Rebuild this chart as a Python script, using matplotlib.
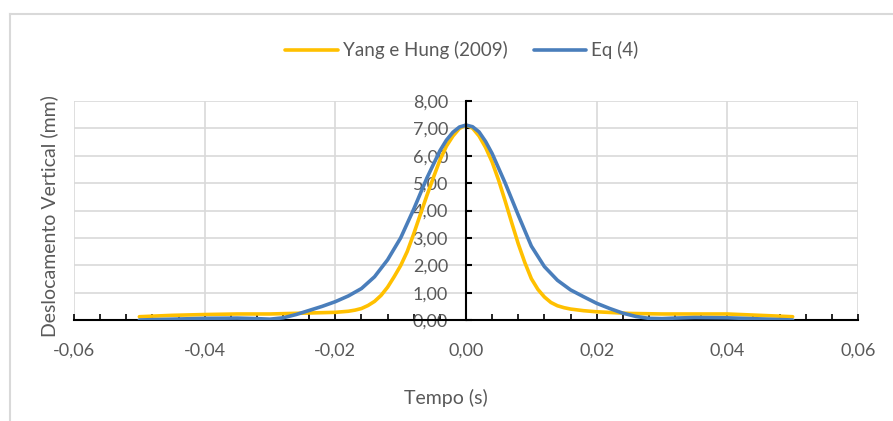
import matplotlib.pyplot as plt
from matplotlib.lines import Line2D
from matplotlib.ticker import MultipleLocator, FuncFormatter

# Yang e Hung (2009)
t_yh = [-0.050, -0.045, -0.040, -0.035, -0.030, -0.025, -0.020, -0.018, -0.017,
        -0.016, -0.015, -0.014, -0.013, -0.012, -0.011, -0.010, -0.009, -0.008,
        -0.007, -0.006, -0.005, -0.004, -0.003, -0.002, -0.001, 0.000, 0.001,
        0.002, 0.003, 0.004, 0.005, 0.006, 0.007, 0.008, 0.009, 0.010, 0.011,
        0.012, 0.013, 0.014, 0.015, 0.016, 0.018, 0.020, 0.025, 0.030, 0.035,
        0.040, 0.045, 0.050]
d_yh = [0.12, 0.17, 0.20, 0.22, 0.22, 0.25, 0.28, 0.32, 0.36,
        0.42, 0.53, 0.68, 0.90, 1.20, 1.58, 1.99, 2.50, 3.15,
        3.85, 4.54, 5.20, 5.84, 6.35, 6.72, 7.00, 7.12, 7.01,
        6.72, 6.30, 5.77, 5.10, 4.34, 3.55, 2.78, 2.10, 1.51, 1.12,
        0.84, 0.64, 0.52, 0.45, 0.40, 0.34, 0.30, 0.24, 0.22, 0.22,
        0.22, 0.17, 0.12]

# Eq (4)
t_eq = [-0.050, -0.045, -0.040, -0.035, -0.032, -0.030, -0.028, -0.026, -0.024,
        -0.022, -0.020, -0.018, -0.016, -0.014, -0.012, -0.010, -0.008, -0.006,
        -0.004, -0.003, -0.002, -0.001, 0.000, 0.001, 0.002, 0.003, 0.004, 0.006,
        0.008, 0.010, 0.012, 0.014, 0.016, 0.018, 0.020, 0.022, 0.024, 0.026,
        0.028, 0.030, 0.032, 0.035, 0.040, 0.045, 0.050]
d_eq = [0.00, 0.03, 0.06, 0.07, 0.05, 0.03, 0.08, 0.20, 0.35,
        0.50, 0.67, 0.88, 1.15, 1.58, 2.20, 3.00, 4.05, 5.18,
        6.18, 6.57, 6.86, 7.05, 7.12, 7.06, 6.87, 6.52, 6.08, 5.00,
        3.83, 2.70, 1.95, 1.45, 1.10, 0.85, 0.61, 0.42, 0.25, 0.13,
        0.06, 0.05, 0.07, 0.09, 0.08, 0.04, 0.00]

cinza = '#595959'
plt.rcParams['font.family'] = ['Lato', 'DejaVu Sans']

fig = plt.figure(figsize=(8.93, 4.21), dpi=100)
ax = fig.add_axes([0.0829, 0.2399, 0.8779, 0.5202])

ax.plot(t_yh, d_yh, color='#FFC000', lw=2.6, label='Yang e Hung (2009)', zorder=3,
        solid_joinstyle='round', solid_capstyle='round')
ax.plot(t_eq, d_eq, color='#4A7EBB', lw=2.6, label='Eq (4)', zorder=4,
        solid_joinstyle='round', solid_capstyle='round')

ax.set_xlim(-0.06, 0.06)
ax.set_ylim(0, 8)
ax.xaxis.set_major_locator(MultipleLocator(0.02))
ax.xaxis.set_minor_locator(MultipleLocator(0.004))
ax.yaxis.set_major_locator(MultipleLocator(1))

virg = lambda f: FuncFormatter(lambda v, p: (f % v).replace('.', ',').replace('-0,00', '0,00'))
ax.xaxis.set_major_formatter(virg('%.2f'))
ax.yaxis.set_major_formatter(virg('%.2f'))

ax.grid(True, which='major', color='#d9d9d9', lw=1.2, zorder=0)
ax.set_axisbelow(True)

for s in ['top', 'right']:
    ax.spines[s].set_visible(False)
ax.spines['left'].set_position(('data', 0))
ax.spines['left'].set_color('black')
ax.spines['left'].set_linewidth(1.5)
ax.spines['bottom'].set_color('black')
ax.spines['bottom'].set_linewidth(1.5)
ax.spines['left'].set_zorder(5)

ax.tick_params(axis='x', which='both', direction='in', length=4, width=1.2,
               colors='black', labelcolor=cinza, labelsize=13, pad=16)
ax.tick_params(axis='y', which='major', direction='in', length=4, width=1.5,
               colors='black', labelcolor=cinza, labelsize=13, pad=13)
for lb in ax.get_yticklabels():
    lb.set_zorder(6)

fig.text(0.4995, 0.055, 'Tempo (s)', color=cinza, fontsize=14,
         ha='center', va='center')
fig.text(0.055, 0.487, 'Deslocamento Vertical (mm)', rotation=90, color=cinza,
         fontsize=14, ha='center', va='center')

ax.legend(loc='center', bbox_to_anchor=(0.517, 0.881), bbox_transform=fig.transFigure,
          ncol=2, frameon=False, fontsize=13.5, labelcolor=cinza, handlelength=2.8,
          handletextpad=0.26, columnspacing=1.4)

# moldura do grafico
fig.add_artist(Line2D([0.0112, 0.0112], [0.0, 0.9667], color='#d9d9d9', lw=1.5))
fig.add_artist(Line2D([0.0112, 1.0], [0.9667, 0.9667], color='#d9d9d9', lw=1.5))

fig.savefig('out.png', dpi=100)
